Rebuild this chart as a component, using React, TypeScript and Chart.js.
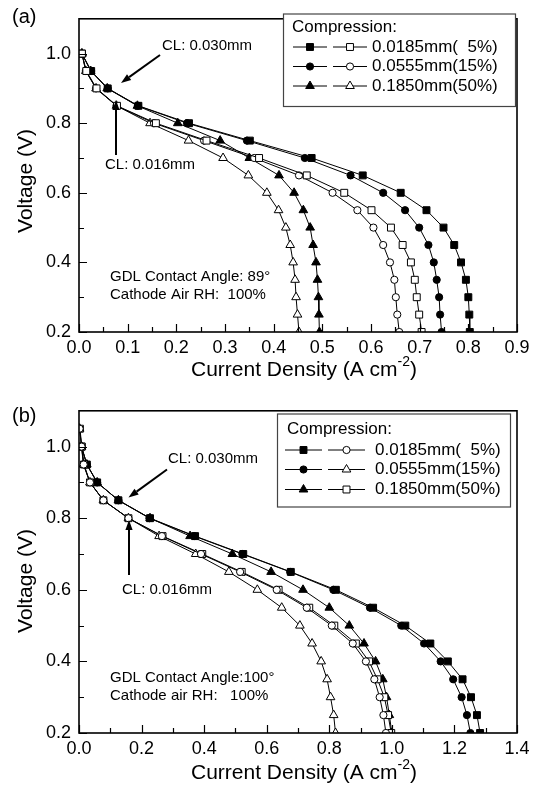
import React, { useEffect, useRef } from 'react';
import { Chart, registerables } from 'chart.js';
Chart.register(...registerables);

const FONT = '"Liberation Sans", Arial, Helvetica, sans-serif';

// ---------- data: panel (a) ----------
const voltsA = [1.0, 0.95, 0.9, 0.85, 0.8, 0.75, 0.7, 0.65, 0.6, 0.55, 0.5, 0.45, 0.4, 0.35, 0.3, 0.25, 0.2];
const a_cl030_5 = [0.006, 0.025, 0.059, 0.122, 0.226, 0.351, 0.478, 0.583, 0.661, 0.714, 0.749, 0.771, 0.785, 0.795, 0.800, 0.802, 0.803];
const a_cl030_15 = [0.006, 0.025, 0.059, 0.121, 0.222, 0.345, 0.464, 0.558, 0.625, 0.670, 0.699, 0.718, 0.729, 0.735, 0.740, 0.742, 0.745];
const a_cl030_50 = [0.006, 0.024, 0.058, 0.120, 0.203, 0.290, 0.350, 0.411, 0.442, 0.461, 0.475, 0.481, 0.487, 0.490, 0.492, 0.493, 0.494];
const a_cl016_5 = [0.006, 0.015, 0.036, 0.078, 0.158, 0.262, 0.370, 0.468, 0.545, 0.601, 0.641, 0.665, 0.682, 0.690, 0.694, 0.699, 0.704];
const a_cl016_15 = [0.006, 0.014, 0.035, 0.077, 0.154, 0.257, 0.360, 0.452, 0.521, 0.572, 0.605, 0.625, 0.639, 0.648, 0.651, 0.654, 0.658];
const a_cl016_50 = [0.006, 0.014, 0.035, 0.077, 0.146, 0.225, 0.296, 0.348, 0.386, 0.410, 0.425, 0.434, 0.440, 0.444, 0.446, 0.449, 0.452];

// ---------- data: panel (b) ----------
const voltsBOpen = [1.05, 1.0, 0.95, 0.9, 0.85, 0.8, 0.75, 0.7, 0.65, 0.6, 0.55, 0.5, 0.45, 0.4, 0.35, 0.3, 0.25, 0.2];
const voltsBFilled = [1.0, 0.95, 0.9, 0.85, 0.8, 0.75, 0.7, 0.65, 0.6, 0.55, 0.5, 0.45, 0.4, 0.35, 0.3, 0.25, 0.2];
const b_cl030_5 = [0.008, 0.025, 0.058, 0.126, 0.227, 0.371, 0.525, 0.677, 0.821, 0.940, 1.043, 1.123, 1.179, 1.226, 1.253, 1.272, 1.282];
const b_cl030_15 = [0.008, 0.025, 0.058, 0.126, 0.225, 0.368, 0.522, 0.675, 0.813, 0.930, 1.030, 1.103, 1.156, 1.196, 1.223, 1.240, 1.251];
const b_cl030_50 = [0.008, 0.025, 0.058, 0.126, 0.227, 0.355, 0.490, 0.614, 0.716, 0.800, 0.864, 0.911, 0.948, 0.971, 0.983, 0.992, 1.000];
const b_cl016_5 = [0.002, 0.008, 0.015, 0.035, 0.078, 0.158, 0.265, 0.390, 0.515, 0.632, 0.728, 0.808, 0.875, 0.917, 0.944, 0.961, 0.973, 0.981];
const b_cl016_15 = [0.002, 0.008, 0.014, 0.035, 0.078, 0.158, 0.256, 0.373, 0.479, 0.570, 0.648, 0.706, 0.745, 0.774, 0.793, 0.804, 0.814, 0.820];
const b_cl016_50 = [0.003, 0.009, 0.016, 0.035, 0.078, 0.158, 0.267, 0.394, 0.520, 0.638, 0.736, 0.816, 0.885, 0.927, 0.954, 0.976, 0.988, 0.998];

// ---------- ticks & labels ----------
const yTicks = [0.2, 0.4, 0.6, 0.8, 1.0];
const yMinor = [0.3, 0.5, 0.7, 0.9];
const xTicksA = [0, 0.1, 0.2, 0.3, 0.4, 0.5, 0.6, 0.7, 0.8, 0.9];
const xMinorA = [0.05, 0.15, 0.25, 0.35, 0.45, 0.55, 0.65, 0.75, 0.85];
const xTicksB = [0, 0.2, 0.4, 0.6, 0.8, 1.0, 1.2, 1.4];
const xMinorB = [0.1, 0.3, 0.5, 0.7, 0.9, 1.1, 1.3];
const compressions = ['0.0185mm(  5%)', '0.0555mm(15%)', '0.1850mm(50%)'];
const notesA = ['GDL Contact Angle: 89\u00B0', 'Cathode Air RH:  100%'];
const notesB = ['GDL Contact Angle:100\u00B0', 'Cathode air RH:   100%'];

type Style = 'rect' | 'circle' | 'triangle';
type Series = { label: string; xs: number[]; ys: number[]; style: Style; filled: boolean };

const radiusFor = (s: Style) => (s === 'circle' ? 3.6 : s === 'rect' ? 4.9 : 5.0);

function drawMarker(ctx: CanvasRenderingContext2D, style: Style, x: number, y: number, filled: boolean) {
  const r = radiusFor(style);
  ctx.beginPath();
  if (style === 'rect') {
    const h = r * Math.SQRT1_2;
    ctx.rect(x - h, y - h, 2 * h, 2 * h);
  } else if (style === 'circle') {
    ctx.arc(x, y, r, 0, Math.PI * 2);
  } else {
    let a = 0;
    ctx.moveTo(x + Math.sin(a) * r, y - Math.cos(a) * r);
    a += (2 * Math.PI) / 3;
    ctx.lineTo(x + Math.sin(a) * r, y - Math.cos(a) * r);
    a += (2 * Math.PI) / 3;
    ctx.lineTo(x + Math.sin(a) * r, y - Math.cos(a) * r);
    ctx.closePath();
  }
  ctx.fillStyle = filled ? '#000' : '#fff';
  ctx.fill();
  ctx.lineWidth = 1;
  ctx.strokeStyle = '#000';
  ctx.stroke();
}

function arrow(ctx: CanvasRenderingContext2D, x1: number, y1: number, x2: number, y2: number) {
  const ang = Math.atan2(y2 - y1, x2 - x1);
  const hl = 10;
  const hw = 3.6;
  const bx = x2 - Math.cos(ang) * hl;
  const by = y2 - Math.sin(ang) * hl;
  ctx.strokeStyle = '#000';
  ctx.lineWidth = 2;
  ctx.beginPath();
  ctx.moveTo(x1, y1);
  ctx.lineTo(bx, by);
  ctx.stroke();
  ctx.fillStyle = '#000';
  ctx.beginPath();
  ctx.moveTo(x2, y2);
  ctx.lineTo(bx + Math.sin(ang) * hw, by - Math.cos(ang) * hw);
  ctx.lineTo(bx - Math.sin(ang) * hw, by + Math.cos(ang) * hw);
  ctx.closePath();
  ctx.fill();
}

type Spec = {
  top: number;
  height: number;
  plotTop: number;
  plotBottom: number;
  xMax: number;
  xTicks: number[];
  xMinor: number[];
  series: Series[];
  legendPairs: [number, number][];
  panel: string;
  panelY: number;
  notes: string[];
  noteX: number;
  noteY: number[];
  cl030: { tx: number; ty: number; a: [number, number, number, number] };
  cl016: { tx: number; ty: number; a: [number, number, number, number] };
  legend: { box: [number, number, number, number]; titleX: number; titleY: number; rowsY: number[]; s1: [number, number]; s2: [number, number]; textX: number };
  xTitleCx: number;
  xTitleY: number;
  yTitleY: number;
};

const specA: Spec = {
  top: 0,
  height: 392,
  plotTop: 8,
  plotBottom: 332,
  xMax: 0.9,
  xTicks: xTicksA,
  xMinor: xMinorA,
  series: [
    { label: 'CL 0.016mm, ' + compressions[0], xs: a_cl016_5, ys: voltsA, style: 'rect', filled: false },
    { label: 'CL 0.016mm, ' + compressions[1], xs: a_cl016_15, ys: voltsA, style: 'circle', filled: false },
    { label: 'CL 0.016mm, ' + compressions[2], xs: a_cl016_50, ys: voltsA, style: 'triangle', filled: false },
    { label: 'CL 0.030mm, ' + compressions[0], xs: a_cl030_5, ys: voltsA, style: 'rect', filled: true },
    { label: 'CL 0.030mm, ' + compressions[1], xs: a_cl030_15, ys: voltsA, style: 'circle', filled: true },
    { label: 'CL 0.030mm, ' + compressions[2], xs: a_cl030_50, ys: voltsA, style: 'triangle', filled: true },
  ],
  legendPairs: [[3, 0], [4, 1], [5, 2]],
  panel: '(a)',
  panelY: 17,
  notes: notesA,
  noteX: 110,
  noteY: [277, 295],
  cl030: { tx: 162, ty: 45.5, a: [160, 55, 121, 83] },
  cl016: { tx: 105, ty: 165, a: [116, 155, 116, 100] },
  legend: { box: [283, 13.5, 515, 106], titleX: 292, titleY: 27, rowsY: [47, 66.5, 86], s1: [293, 327], s2: [333, 367], textX: 372 },
  xTitleCx: 304,
  xTitleY: 370,
  yTitleY: 181,
};

const specB: Spec = {
  top: 392,
  height: 396,
  plotTop: 408,
  plotBottom: 733,
  xMax: 1.4,
  xTicks: xTicksB,
  xMinor: xMinorB,
  series: [
    { label: 'CL 0.016mm, ' + compressions[0], xs: b_cl016_5, ys: voltsBOpen, style: 'circle', filled: false },
    { label: 'CL 0.016mm, ' + compressions[1], xs: b_cl016_15, ys: voltsBOpen, style: 'triangle', filled: false },
    { label: 'CL 0.016mm, ' + compressions[2], xs: b_cl016_50, ys: voltsBOpen, style: 'rect', filled: false },
    { label: 'CL 0.030mm, ' + compressions[0], xs: b_cl030_5, ys: voltsBFilled, style: 'rect', filled: true },
    { label: 'CL 0.030mm, ' + compressions[1], xs: b_cl030_15, ys: voltsBFilled, style: 'circle', filled: true },
    { label: 'CL 0.030mm, ' + compressions[2], xs: b_cl030_50, ys: voltsBFilled, style: 'triangle', filled: true },
  ],
  legendPairs: [[3, 0], [4, 1], [5, 2]],
  panel: '(b)',
  panelY: 416,
  notes: notesB,
  noteX: 110,
  noteY: [678, 696],
  cl030: { tx: 168, ty: 459, a: [167, 469.5, 128.5, 497.5] },
  cl016: { tx: 122, ty: 590, a: [129, 575, 129, 520] },
  legend: { box: [277, 413.5, 510, 506.5], titleX: 287, titleY: 429.5, rowsY: [450, 469.5, 489.5], s1: [285, 322], s2: [328, 365], textX: 375 },
  xTitleCx: 304,
  xTitleY: 773,
  yTitleY: 581,
};

function buildChart(canvas: HTMLCanvasElement, spec: Spec) {
  const off = spec.top;
  const overlay = {
    id: 'overlay' + spec.panel,
    afterDraw(chart: any) {
      const ctx: CanvasRenderingContext2D = chart.ctx;
      const ca = chart.chartArea;
      const xs = chart.scales.x;
      const ys = chart.scales.y;
      ctx.save();
      // inward ticks
      ctx.strokeStyle = '#000';
      ctx.lineWidth = 1.2;
      ctx.beginPath();
      spec.xTicks.forEach((v) => {
        const px = Math.round(xs.getPixelForValue(v)) + 0.5;
        ctx.moveTo(px, ca.bottom);
        ctx.lineTo(px, ca.bottom - 8);
      });
      spec.xMinor.forEach((v) => {
        const px = Math.round(xs.getPixelForValue(v)) + 0.5;
        ctx.moveTo(px, ca.bottom);
        ctx.lineTo(px, ca.bottom - 5);
      });
      yTicks.forEach((v) => {
        const py = Math.round(ys.getPixelForValue(v)) + 0.5;
        ctx.moveTo(ca.left, py);
        ctx.lineTo(ca.left + 8, py);
      });
      yMinor.forEach((v) => {
        const py = Math.round(ys.getPixelForValue(v)) + 0.5;
        ctx.moveTo(ca.left, py);
        ctx.lineTo(ca.left + 5, py);
      });
      ctx.stroke();
      // frame
      ctx.lineWidth = 1.6;
      ctx.strokeRect(ca.left, ca.top, ca.right - ca.left, ca.bottom - ca.top);

      // panel label
      ctx.fillStyle = '#000';
      ctx.font = `20px ${FONT}`;
      ctx.textAlign = 'left';
      ctx.textBaseline = 'middle';
      ctx.fillText(spec.panel, 12, spec.panelY - off);

      // notes
      ctx.font = `15px ${FONT}`;
      spec.notes.forEach((t, i) => ctx.fillText(t, spec.noteX, spec.noteY[i] - off));

      // CL annotations
      ctx.fillText('CL: 0.030mm', spec.cl030.tx, spec.cl030.ty - off);
      ctx.fillText('CL: 0.016mm', spec.cl016.tx, spec.cl016.ty - off);
      const a1 = spec.cl030.a;
      arrow(ctx, a1[0], a1[1] - off, a1[2], a1[3] - off);
      const a2 = spec.cl016.a;
      arrow(ctx, a2[0], a2[1] - off, a2[2], a2[3] - off);

      // legend
      const L = spec.legend;
      ctx.fillStyle = '#fff';
      ctx.fillRect(L.box[0], L.box[1] - off, L.box[2] - L.box[0], L.box[3] - L.box[1]);
      ctx.strokeStyle = '#444';
      ctx.lineWidth = 1.2;
      ctx.strokeRect(L.box[0] + 0.5, L.box[1] - off + 0.5, L.box[2] - L.box[0], L.box[3] - L.box[1]);
      ctx.fillStyle = '#000';
      ctx.font = `17px ${FONT}`;
      ctx.textBaseline = 'middle';
      ctx.fillText('Compression:', L.titleX, L.titleY - off);
      spec.legendPairs.forEach((pair, i) => {
        const y = L.rowsY[i] - off;
        [L.s1, L.s2].forEach((seg, k) => {
          const s = spec.series[pair[k]];
          ctx.strokeStyle = '#000';
          ctx.lineWidth = 1;
          ctx.beginPath();
          ctx.moveTo(seg[0], y);
          ctx.lineTo(seg[1], y);
          ctx.stroke();
          drawMarker(ctx, s.style, (seg[0] + seg[1]) / 2, y, s.filled);
        });
        ctx.fillStyle = '#000';
        ctx.font = `17px ${FONT}`;
        ctx.fillText(compressions[i], L.textX, y);
      });

      // axis titles
      ctx.font = `21px ${FONT}`;
      const main = 'Current Density (A cm';
      const sup = '-2';
      const end = ')';
      const w1 = ctx.measureText(main).width;
      const w3 = ctx.measureText(end).width;
      ctx.font = `14px ${FONT}`;
      const w2 = ctx.measureText(sup).width;
      const x0 = spec.xTitleCx - (w1 + w2 + w3) / 2;
      const ty = spec.xTitleY - off;
      ctx.font = `21px ${FONT}`;
      ctx.textBaseline = 'middle';
      ctx.fillText(main, x0, ty);
      ctx.font = `14px ${FONT}`;
      ctx.fillText(sup, x0 + w1, ty - 8);
      ctx.font = `21px ${FONT}`;
      ctx.fillText(end, x0 + w1 + w2, ty);

      ctx.translate(26, spec.yTitleY - off);
      ctx.rotate(-Math.PI / 2);
      ctx.textAlign = 'center';
      ctx.fillText('Voltage (V)', 0, 0);
      ctx.restore();
    },
  };

  return new Chart(canvas, {
    type: 'scatter',
    data: {
      datasets: spec.series.map((s) => ({
        label: s.label,
        data: s.xs.map((x, i) => ({ x, y: s.ys[i] })),
        showLine: true,
        borderColor: '#000',
        borderWidth: 1,
        pointStyle: s.style,
        pointRadius: radiusFor(s.style),
        pointBackgroundColor: s.filled ? '#000' : '#fff',
        pointBorderColor: '#000',
        pointBorderWidth: 1,
        fill: false,
        tension: 0,
      })),
    },
    options: {
      animation: false,
      responsive: false,
      maintainAspectRatio: false,
      devicePixelRatio: 1,
      events: [],
      layout: { padding: { top: spec.plotTop - off, right: 22, left: 0, bottom: 0 } },
      plugins: { legend: { display: false }, tooltip: { enabled: false }, title: { display: false } },
      scales: {
        x: {
          type: 'linear',
          min: 0,
          max: spec.xMax,
          afterBuildTicks: (s: any) => {
            s.ticks = spec.xTicks.map((v) => ({ value: v }));
          },
          afterFit: (s: any) => {
            s.height = spec.top + spec.height - spec.plotBottom;
          },
          grid: { display: false, drawTicks: false },
          border: { display: false },
          ticks: {
            color: '#000',
            font: { family: FONT, size: 18 },
            padding: 5,
            maxRotation: 0,
            autoSkip: false,
            callback: (v: any) => Number(v).toFixed(1),
          },
        },
        y: {
          type: 'linear',
          min: 0.2,
          max: 1.1,
          afterBuildTicks: (s: any) => {
            s.ticks = yTicks.map((v) => ({ value: v }));
          },
          afterFit: (s: any) => {
            s.width = 79;
          },
          grid: { display: false, drawTicks: false },
          border: { display: false },
          ticks: {
            color: '#000',
            font: { family: FONT, size: 18 },
            padding: 8,
            autoSkip: false,
            callback: (v: any) => Number(v).toFixed(1),
          },
        },
      },
    },
    plugins: [overlay],
  } as any);
}

function Panel({ spec }: { spec: Spec }) {
  const ref = useRef<HTMLCanvasElement>(null);
  useEffect(() => {
    if (!ref.current) return;
    const c = buildChart(ref.current, spec);
    return () => c.destroy();
  }, [spec]);
  return (
    <canvas
      ref={ref}
      width={539}
      height={spec.height}
      style={{ position: 'absolute', left: 0, top: spec.top, width: 539, height: spec.height }}
    />
  );
}

export default function App() {
  return (
    <div style={{ position: 'fixed', left: 0, top: 0, width: 539, height: 788, background: '#fff', overflow: 'hidden' }}>
      <Panel spec={specA} />
      <Panel spec={specB} />
    </div>
  );
}
